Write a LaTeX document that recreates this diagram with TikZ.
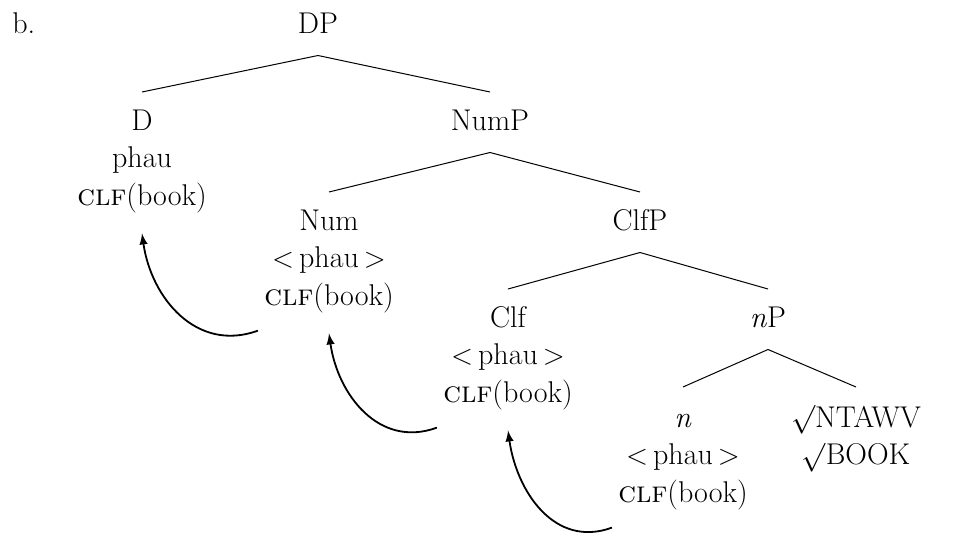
\documentclass[tikz,border=0pt]{standalone}
\usepackage{fontspec}
\usetikzlibrary{arrows}
\tikzset{	TreeLbl/.style={inner sep=0pt,anchor=base,
				font=\fontsize{15}{18.75}\selectfont},
		Branch/.style={black,line width=0.5pt},
		Move/.style={->,black,line width=0.9pt}
		}
\newcommand{\wcopy}{$<$\,phau\,$>$}
\newcommand{\wclf}{\textsc{clf}(book)}
\newcommand{\Stack}[1]{\begin{tabular}[t]{@{}c@{}}#1\end{tabular}}

\begin{document}
\begin{tikzpicture}[>=latex, x=0.5pt, y=0.5pt]
	\useasboundingbox (0,0) rectangle (960,-541);

	% knoten
	\node[TreeLbl,anchor=base west] (ex) at (12,-33) {b.};
	\node[TreeLbl] (DP) at (318,-33) {DP};
	\node[TreeLbl] (D) at (142,-130) {\Stack{D\\ phau\\ \wclf}};
	\node[TreeLbl] (NumP) at (490,-130) {NumP};
	\node[TreeLbl] (Num) at (329,-230) {\Stack{Num\\ \wcopy\\ \wclf}};
	\node[TreeLbl] (ClfP) at (640,-230) {ClfP};
	\node[TreeLbl] (Clf) at (508,-327) {\Stack{Clf\\ \wcopy\\ \wclf}};
	\node[TreeLbl] (nP) at (768,-327) {\textit{n}P};
	\node[TreeLbl] (n) at (683,-427) {\Stack{\textit{n}\\ \wcopy\\ \wclf}};
	\node[TreeLbl] (root) at (856,-427) {\Stack{$\surd$NTAWV\\ $\surd$BOOK}};

	% aeste
	\draw[Branch] ([yshift=-11.25pt]DP.base) -- ([yshift=19pt]D.base);
	\draw[Branch] ([yshift=-11.25pt]DP.base) -- ([yshift=19pt]NumP.base);
	\draw[Branch] ([yshift=-11.25pt]NumP.base) -- ([yshift=19pt]Num.base);
	\draw[Branch] ([yshift=-11.25pt]NumP.base) -- ([yshift=19pt]ClfP.base);
	\draw[Branch] ([yshift=-11.25pt]ClfP.base) -- ([yshift=19pt]Clf.base);
	\draw[Branch] ([yshift=-11.25pt]ClfP.base) -- ([yshift=19pt]nP.base);
	\draw[Branch] ([yshift=-11.25pt]nP.base) -- ([yshift=20pt]n.base);
	\draw[Branch] ([yshift=-11.25pt]nP.base) -- ([yshift=20pt]root.base);

	% bewegung
	\draw[Move] ([xshift=-3pt,yshift=-7pt]Num.south west) to[out=200,in=-82,looseness=1.1] ([yshift=-8.4pt]D.south);
	\draw[Move] ([xshift=-3pt,yshift=-7pt]Clf.south west) to[out=200,in=-82,looseness=1.1] ([yshift=-8.4pt]Num.south);
	\draw[Move] ([xshift=-3pt,yshift=-7pt]n.south west) to[out=200,in=-82,looseness=1.1] ([yshift=-8.4pt]Clf.south);
\end{tikzpicture}
\end{document}
